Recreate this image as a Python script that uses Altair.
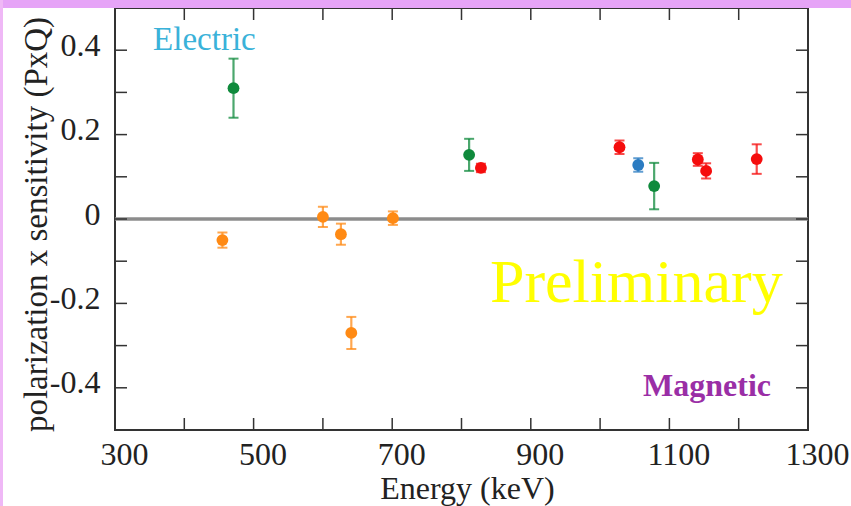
import altair as alt
import pandas as pd

# ---- data ----
groups = ["orange", "orange", "orange", "orange", "orange",
          "green", "green", "green",
          "red", "red", "red", "red", "red",
          "blue"]
energy = [455, 600, 626, 641, 701,
          471, 811, 1078,
          828, 1028, 1141, 1153, 1226,
          1055]
pxq = [-0.050, 0.005, -0.036, -0.270, 0.002,
       0.310, 0.152, 0.078,
       0.121, 0.170, 0.141, 0.114, 0.142,
       0.128]
err = [0.018, 0.024, 0.025, 0.038, 0.016,
       0.070, 0.038, 0.055,
       0.010, 0.016, 0.015, 0.018, 0.035,
       0.016]

group_names = ["orange", "green", "red", "blue"]
group_colors = ["#ff8a14", "#0f8a3c", "#f50d0d", "#2b7cc2"]

x_tick_values = [300, 400, 500, 600, 700, 800, 900, 1000, 1100, 1200, 1300]
x_label_values = [300, 500, 700, 900, 1100, 1300]
y_tick_values = [-0.4, -0.3, -0.2, -0.1, 0.0, 0.1, 0.2, 0.3, 0.4]
y_label_values = [-0.4, -0.2, 0.0, 0.2, 0.4]

df = pd.DataFrame({"group": groups, "energy": energy, "pxq": pxq, "err": err})
df["lo"] = df["pxq"] - df["err"]
df["hi"] = df["pxq"] + df["err"]

W, H = 693, 422
FONT = "Liberation Serif"

xscale = alt.Scale(domain=[300, 1300], nice=False, zero=False)
yscale = alt.Scale(domain=[-0.5, 0.5], nice=False, zero=False)
cscale = alt.Scale(domain=group_names, range=group_colors)

xaxis = alt.Axis(values=x_label_values, ticks=False, domain=False, grid=False,
                 format="d", labelFlush=False, labelOverlap=False,
                 labelFont=FONT, labelFontSize=32, labelColor="#222",
                 labelBaseline="alphabetic", labelPadding=34, labelOffset=9,
                 title="Energy (keV)", titleFont=FONT, titleFontSize=32,
                 titleFontWeight="normal", titleColor="#222",
                 titleX=352, titleY=68, titleBaseline="alphabetic", titleAlign="center")
yaxis = alt.Axis(values=y_label_values, ticks=False, domain=False, grid=False,
                 labelFlush=False, labelOverlap=False,
                 labelFont=FONT, labelFontSize=32, labelColor="#222",
                 labelBaseline="alphabetic", labelPadding=15, labelOffset=5,
                 labelExpr="datum.value == 0 ? '0' : (datum.value < 0 ? '-' : '') + format(abs(datum.value), '.1f')",
                 title="polarization x sensitivity (PxQ)", titleFont=FONT, titleFontSize=33,
                 titleFontWeight="normal", titleColor="#222",
                 titleX=-69, titleY=216, titleAngle=-90, titleBaseline="alphabetic",
                 titleAlign="center")

one = pd.DataFrame({"k": [0]})

# decorative pink frame strips
top_band = alt.Chart(one).mark_rect(color="#e6a4f7").encode(
    x=alt.value(-115), x2=alt.value(W + 43), y=alt.value(-8), y2=alt.value(0))
left_band = alt.Chart(one).mark_rect(color="#efb8f6").encode(
    x=alt.value(-115), x2=alt.value(-112), y=alt.value(-8), y2=alt.value(H + 76))

base_axes = alt.Chart(df).mark_point(opacity=0).encode(
    x=alt.X("energy:Q", scale=xscale, axis=xaxis),
    y=alt.Y("pxq:Q", scale=yscale, axis=yaxis))

xt = pd.DataFrame({"v": x_tick_values})
yt = pd.DataFrame({"v": y_tick_values})
TL = 12
tick_col = "#333"
bottom_ticks = alt.Chart(xt).mark_rule(color=tick_col, strokeWidth=1.5).encode(
    x=alt.X("v:Q", scale=xscale), y=alt.value(H), y2=alt.value(H - TL))
top_ticks = alt.Chart(xt).mark_rule(color=tick_col, strokeWidth=1.5).encode(
    x=alt.X("v:Q", scale=xscale), y=alt.value(0), y2=alt.value(TL))
left_ticks = alt.Chart(yt).mark_rule(color=tick_col, strokeWidth=1.5).encode(
    y=alt.Y("v:Q", scale=yscale), x=alt.value(0), x2=alt.value(TL))
right_ticks = alt.Chart(yt).mark_rule(color=tick_col, strokeWidth=1.5).encode(
    y=alt.Y("v:Q", scale=yscale), x=alt.value(W), x2=alt.value(W - TL))

zero_line = alt.Chart(one).mark_rule(color="#8c8c8c", strokeWidth=3.5).encode(
    y=alt.datum(0, scale=yscale), x=alt.value(0), x2=alt.value(W))

err_rules = alt.Chart(df).mark_rule(strokeWidth=2.2, opacity=0.75).encode(
    x=alt.X("energy:Q", scale=xscale),
    y=alt.Y("lo:Q", scale=yscale), y2="hi:Q",
    color=alt.Color("group:N", scale=cscale, legend=None))
cap_lo = alt.Chart(df).mark_tick(orient="horizontal", size=10, thickness=2, opacity=0.75).encode(
    x=alt.X("energy:Q", scale=xscale), y=alt.Y("lo:Q", scale=yscale),
    color=alt.Color("group:N", scale=cscale, legend=None))
cap_hi = alt.Chart(df).mark_tick(orient="horizontal", size=10, thickness=2, opacity=0.75).encode(
    x=alt.X("energy:Q", scale=xscale), y=alt.Y("hi:Q", scale=yscale),
    color=alt.Color("group:N", scale=cscale, legend=None))
points = alt.Chart(df).mark_circle(size=140, opacity=1).encode(
    x=alt.X("energy:Q", scale=xscale), y=alt.Y("pxq:Q", scale=yscale),
    color=alt.Color("group:N", scale=cscale, legend=None))

electric = alt.Chart(one).mark_text(text="Electric", font=FONT, fontSize=33, color="#3ab2d9",
                                     align="left", baseline="alphabetic").encode(
    x=alt.datum(355, scale=xscale), y=alt.datum(0.40, scale=yscale))
magnetic = alt.Chart(one).mark_text(text="Magnetic", font=FONT, fontSize=32, fontWeight="bold",
                                     color="#9a2ea6", align="left", baseline="alphabetic").encode(
    x=alt.datum(1062, scale=xscale), y=alt.datum(-0.42, scale=yscale))
prelim = alt.Chart(one).mark_text(text="Preliminary", font=FONT, fontSize=62, color="#ffff00",
                                   align="left", baseline="alphabetic").encode(
    x=alt.datum(841, scale=xscale), y=alt.datum(-0.197, scale=yscale))

chart = alt.layer(
    top_band, left_band, base_axes, zero_line,
    bottom_ticks, top_ticks, left_ticks, right_ticks,
    err_rules, cap_lo, cap_hi, points,
    electric, magnetic, prelim
).properties(
    width=W, height=H,
    autosize=alt.AutoSizeParams(type="none"),
    padding={"left": 115, "top": 8, "right": 43, "bottom": 76},
    background="white"
).configure_view(stroke="#333", strokeWidth=2)

chart.save("out.html", embed_options={"renderer": "svg", "actions": False})
